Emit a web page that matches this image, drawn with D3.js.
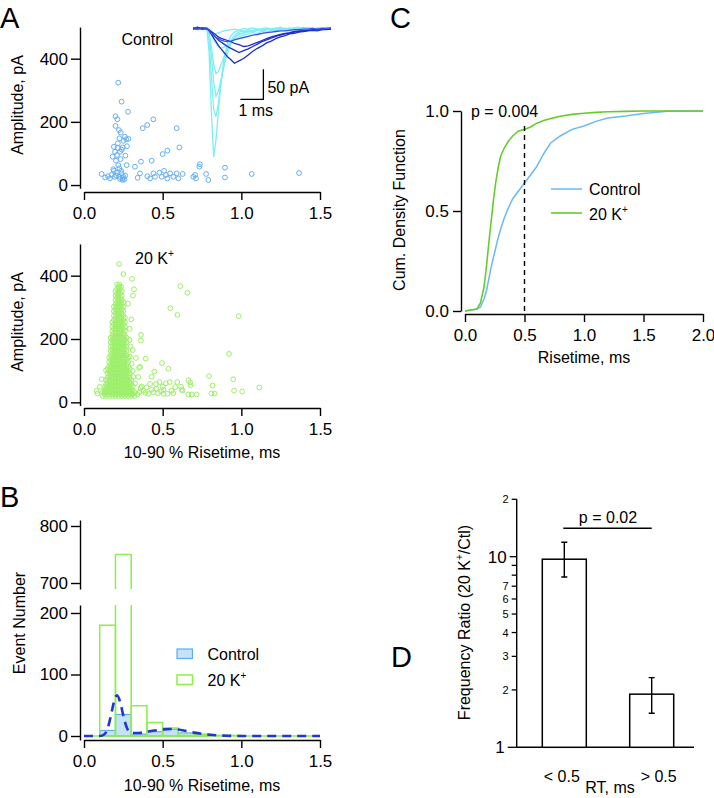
<!DOCTYPE html>
<html><head><meta charset="utf-8">
<script src="https://cdn.jsdelivr.net/npm/d3@7"></script>
<style>body{margin:0;background:#fff}</style>
</head><body><svg id="c" width="714" height="798" style="background:#fff"></svg>
<script>
// ---------------- DATA ----------------
const riseTicks = [0, 0.5, 1.0, 1.5];
const ampTicks = [0, 200, 400];
const ctlScatter = [[0.218,324],[0.239,264],[0.28,232],[0.2,218],[0.212,208],[0.2,187],[0.222,174],[0.233,166],[0.26,153],[0.225,148],[0.282,146],[0.25,140],[0.19,121],[0.246,119],[0.273,123],[0.197,105],[0.229,105],[0.263,93],[0.182,90],[0.203,77],[0.271,63],[0.218,63],[0.186,50],[0.225,53],[0.208,39],[0.239,37],[0.112,35],[0.134,24],[0.165,21],[0.176,32],[0.225,26],[0.229,19],[0.246,16],[0.256,18],[0.25,26],[0.195,26],[0.373,180],[0.402,190],[0.441,208],[0.589,180],[0.324,58],[0.362,74],[0.43,77],[0.356,37],[0.341,23],[0.402,28],[0.42,21],[0.441,37],[0.451,26],[0.479,39],[0.494,26],[0.509,45],[0.521,32],[0.53,21],[0.5,98],[0.53,109],[0.606,119],[0.547,37],[0.568,26],[0.589,37],[0.6,21],[0.627,35],[0.695,26],[0.712,21],[0.706,32],[0.733,58],[0.737,66],[0.776,35],[0.79,16],[0.896,55],[0.896,24],[1.066,35],[1.367,38],[0.21,95],[0.24,112],[0.215,132],[0.235,45],[0.205,30],[0.262,30],[0.152,28],[0.19,45],[0.232,82],[0.245,22],[0.268,145],[0.214,118]];
const k20Outliers = [[0.2225,437],[0.25,405],[0.305,390],[0.318,357],[0.311,337],[0.28,311],[0.612,367],[0.657,346],[0.549,297],[0.594,276],[0.983,272],[0.922,153],[0.362,213],[0.362,195],[0.392,138],[0.496,124],[0.536,106],[0.447,97],[0.43,81],[0.356,112],[0.35,109],[0.948,73],[0.954,37],[1.005,34],[1.114,47],[0.795,83],[0.816,53],[0.81,28],[0.83,28],[0.663,70],[0.675,63],[0.677,54],[0.663,25],[0.685,25],[0.716,25],[0.617,49],[0.62,40],[0.627,37],[0.593,64],[0.545,64],[0.52,60],[0.48,64],[0.457,58],[0.42,58],[0.398,47],[0.377,37],[0.41,27],[0.44,32],[0.47,29],[0.505,27],[0.53,27],[0.568,29],[0.557,37],[0.505,40],[0.46,43],[0.43,40],[0.352,32],[0.367,50],[0.325,60],[0.314,80],[0.31,99],[0.303,122],[0.29,144],[0.296,176],[0.29,197],[0.08,36],[0.085,28],[0.1,49],[0.113,73],[0.13,32],[0.14,101],[0.34,25],[0.36,45],[0.39,30],[0.5,50],[0.58,48],[0.49,35],[0.345,80],[0.33,140],[0.31,165],[0.3,262],[0.29,232]];
const k20Rows = [
 [20,[0.12,0.14,0.16,0.18,0.2,0.22,0.24,0.26,0.28,0.3,0.32]],
 [26,[0.13,0.15,0.17,0.19,0.21,0.23,0.25,0.27,0.29,0.31]],
 [32,[0.12,0.14,0.16,0.18,0.2,0.22,0.24,0.26,0.28,0.3,0.32]],
 [38,[0.13,0.15,0.17,0.19,0.21,0.23,0.25,0.27,0.29,0.31]],
 [44,[0.14,0.16,0.18,0.2,0.22,0.24,0.26,0.28,0.3]],
 [50,[0.135,0.15,0.17,0.19,0.21,0.23,0.25,0.27,0.29,0.31]],
 [57,[0.14,0.16,0.18,0.2,0.22,0.24,0.26,0.28,0.3]],
 [64,[0.15,0.17,0.19,0.21,0.23,0.25,0.27,0.29]],
 [71,[0.14,0.16,0.18,0.2,0.22,0.24,0.26,0.28,0.3]],
 [78,[0.15,0.17,0.19,0.21,0.23,0.25,0.27,0.29]],
 [85,[0.16,0.18,0.2,0.22,0.24,0.26,0.28]],
 [92,[0.15,0.17,0.19,0.21,0.23,0.25,0.27,0.29]],
 [99,[0.16,0.18,0.2,0.22,0.24,0.26,0.28]],
 [106,[0.15,0.17,0.19,0.21,0.23,0.25,0.27,0.29]],
 [113,[0.16,0.18,0.2,0.22,0.24,0.26,0.28]],
 [120,[0.17,0.19,0.21,0.23,0.25,0.27]],
 [127,[0.16,0.18,0.2,0.22,0.24,0.26,0.28]],
 [134,[0.17,0.19,0.21,0.23,0.25,0.27]],
 [141,[0.16,0.18,0.2,0.22,0.24,0.26,0.28]],
 [148,[0.17,0.19,0.21,0.23,0.25,0.27]],
 [155,[0.18,0.2,0.22,0.24,0.26]],
 [162,[0.17,0.19,0.21,0.23,0.25,0.27]],
 [169,[0.18,0.2,0.22,0.24,0.26]],
 [176,[0.17,0.19,0.21,0.23,0.25,0.27]],
 [183,[0.18,0.2,0.22,0.24,0.26]],
 [190,[0.17,0.19,0.21,0.23,0.25,0.27]],
 [197,[0.18,0.2,0.22,0.24,0.26]],
 [204,[0.17,0.19,0.21,0.23,0.25,0.27]],
 [211,[0.18,0.2,0.22,0.24,0.26]],
 [218,[0.19,0.21,0.23,0.25]],
 [225,[0.18,0.2,0.22,0.24,0.26]],
 [232,[0.19,0.21,0.23,0.25]],
 [239,[0.18,0.2,0.22,0.24,0.26]],
 [246,[0.19,0.21,0.23,0.25]],
 [253,[0.18,0.2,0.22,0.24,0.26]],
 [260,[0.19,0.21,0.23,0.25]],
 [267,[0.2,0.22,0.24,0.26]],
 [274,[0.19,0.21,0.23,0.25]],
 [281,[0.2,0.22,0.24]],
 [288,[0.19,0.21,0.23,0.25]],
 [295,[0.2,0.22,0.24]],
 [302,[0.19,0.21,0.23,0.25]],
 [309,[0.2,0.22,0.24]],
 [316,[0.21,0.23,0.25]],
 [323,[0.2,0.22,0.24]],
 [330,[0.21,0.23]],
 [337,[0.2,0.22,0.24]],
 [344,[0.21,0.23]],
 [351,[0.2,0.22,0.24]],
 [358,[0.21,0.23]],
 [365,[0.22,0.235]],
 [372,[0.21,0.225]]
];
const traceT = [0,0.2,0.4,0.6,0.7,0.8,0.9,1.0,1.1,1.2,1.35,1.5,1.65,1.8,2.0,2.2,2.4,2.6,2.8,3.0,3.2,3.4,3.6,3.8,4.0,4.2,4.4,4.6,4.8,5.0,5.2,5.4,5.6,5.8,6.0];
const cyanTraces = [
 [0,2,-1,1,-40,-140,-214,-185,-140,-95,-50,-25,-12,-6,-3,-5,-2,-4,-1,-3,0,-2,1,-2,0,-3,1,-1,2,0,-2,1,-1,2,0],
 [1,-1,1,0,-20,-80,-135,-147,-125,-95,-60,-35,-20,-11,-6,-4,-6,-3,-1,-4,-2,0,-3,1,-1,-2,0,2,-1,1,-2,0,1,-1,1],
 [0,1,-2,0,-10,-45,-90,-113,-105,-88,-62,-40,-25,-15,-9,-7,-4,-6,-2,-3,-1,-3,0,-2,1,-1,-2,1,0,-1,1,-2,0,1,0],
 [-1,0,1,0,-8,-30,-60,-75,-72,-62,-47,-33,-22,-15,-10,-8,-5,-6,-3,-4,-2,-1,-3,0,-1,1,-2,0,-1,1,0,-2,1,0,1],
 [0,-2,1,0,-3,-8,-11,-9,-7,-6,-4,-3,-2,-1,-3,0,-1,1,-2,0,1,-1,0,2,-1,0,1,-1,0,1,-1,0,2,0,-1],
 [1,0,-1,1,-3,-10,-18,-25,-30,-33,-31,-28,-23,-18,-14,-11,-9,-7,-8,-5,-6,-3,-4,-2,-3,-1,-2,0,-2,1,-1,0,-1,1,0]
];
const blueTraces = [
 [0,2,-1,0,-4,-10,-16,-22,-28,-33,-40,-47,-52,-58,-54,-50,-44,-38,-33,-29,-24,-21,-17,-14,-12,-9,-8,-6,-5,-4,-3,-4,-2,-2,-1],
 [-1,1,0,0,-3,-7,-11,-15,-19,-22,-26,-30,-33,-36,-40,-37,-34,-30,-26,-22,-19,-16,-13,-11,-9,-8,-6,-5,-4,-3,-3,-2,-2,-1,0],
 [0,-1,1,0,-2,-5,-8,-11,-14,-16,-18,-20,-22,-25,-27,-30,-29,-26,-23,-20,-17,-14,-12,-10,-8,-7,-5,-4,-4,-3,-2,-2,-1,-1,0],
 [1,0,-1,0,-3,-8,-12,-15,-17,-19,-21,-22,-21,-19,-17,-15,-13,-11,-10,-8,-7,-6,-5,-4,-4,-3,-2,-2,-1,-1,0,-1,0,0,1]
];
const histBinStarts = [0,0.1,0.2,0.3,0.4,0.5,0.6,0.7,0.8,0.9,1.0,1.1,1.2,1.3,1.4];
const histK20 = [0,180,750,49,22,13,4,2,1,1,0,0,0,0,0];
const histCtl = [0,9,35,3,7,11,5,3,0,0,0,0,0,0,0];
const fitX = [0,0.05,0.1,0.13,0.15,0.17,0.19,0.21,0.23,0.25,0.27,0.3,0.35,0.4,0.45,0.5,0.55,0.6,0.65,0.7,0.75,0.8,0.85,0.9,1.0,1.2,1.5];
const fitY = [0,0,0,3,12,32,55,66,55,33,15,5,5,7,9,10.5,11.5,10.5,8,5.5,3.5,2,1,0.5,0,0,0];
const histLowTicks = [0,100,200];
const histHighTicks = [700,800];
const cdfX = [0,0.1,0.13,0.16,0.18,0.2,0.22,0.24,0.26,0.28,0.3,0.33,0.36,0.4,0.45,0.5,0.55,0.6,0.66,0.72,0.8,0.9,1.0,1.1,1.2,1.35,1.5,1.7,2.0];
const cdfCtl = [0,0.01,0.02,0.06,0.1,0.16,0.22,0.27,0.32,0.37,0.41,0.465,0.51,0.56,0.6,0.64,0.68,0.72,0.785,0.84,0.875,0.908,0.925,0.948,0.965,0.975,0.988,0.999,1];
const cdfK20 = [0,0.01,0.04,0.12,0.22,0.34,0.45,0.56,0.65,0.72,0.775,0.815,0.845,0.875,0.9,0.908,0.92,0.938,0.952,0.962,0.974,0.983,0.989,0.993,0.996,0.998,1,1,1];
const cdfXTicks = [0,0.5,1.0,1.5,2.0];
const cdfYTicks = [0,0.5,1.0];
const ratioCats = ["< 0.5", "> 0.5"];
const ratioVals = [9.7, 1.9];
const ratioLo = [7.83, 1.51];
const ratioHi = [11.9, 2.32];
const ratioTicks = [1,2,3,4,5,6,7,8,9,10,20];
const ratioTickLabels = ["1","2","3","4","5","6","7","","","10","2"];

// ---------------- DRAW ----------------
const FONT = '"Liberation Sans", Arial, Helvetica, sans-serif';
const TICKFS = 17;
const svg = d3.select("#c");
svg.append("rect").attr("width",714).attr("height",798).attr("fill","#fff");
const C_CTL = "#66aef5", C_K20 = "#9cef68", C_CYAN = "#7eeef5", C_DARK = "#1f2fcc", C_MED = "#3a52e6";
const C_CDF_G = "#66cc2e", C_CDF_B = "#6cb8f6", C_HIST_G = "#8def4a", C_HIST_FILL = "#c6e2f8", C_HIST_S = "#62acec";

function styleAxis(g) {
  g.attr("font-family", FONT).attr("font-size", TICKFS);
  g.selectAll(".domain, .tick line").attr("stroke", "#000").attr("stroke-width", 1.4);
  g.selectAll("text").attr("fill", "#000");
}
function txt(x, y, s, o = {}) {
  const t = svg.append("text").attr("x", x).attr("y", y).attr("font-family", FONT)
    .attr("font-size", o.fs || 16).attr("fill", "#000").attr("text-anchor", o.anchor || "start").text(s);
  if (o.rot) t.attr("transform", `rotate(-90,${x},${y})`);
  return t;
}
function kText(x, y, o = {}) {
  const t = svg.append("text").attr("x", x).attr("y", y).attr("font-family", FONT)
    .attr("font-size", 16).attr("fill", "#000").attr("text-anchor", o.anchor || "start");
  t.append("tspan").text(o.pre || "20 K");
  t.append("tspan").attr("dy", -7).attr("font-size", 10).text("+");
  if (o.post) t.append("tspan").attr("dy", 7).attr("font-size", 16).text(o.post);
  if (o.rot) t.attr("transform", `rotate(-90,${x},${y})`);
  return t;
}

// Panel letters
txt(0, 28, "A", {fs: 29});
txt(0, 507, "B", {fs: 29});
txt(390, 28, "C", {fs: 29});
txt(391, 667, "D", {fs: 29});

// ===== Panel A (top, Control) =====
const xA = d3.scaleLinear([0, 1.5], [84, 320]);
const yA1 = d3.scaleLinear([-10, 500], [188.2, 27.1]);
styleAxis(svg.append("g").attr("transform", "translate(80,0)")
  .call(d3.axisLeft(yA1).tickValues(ampTicks).tickSize(9).tickPadding(3).tickSizeOuter(0)));
styleAxis(svg.append("g").attr("transform", "translate(0,192)")
  .call(d3.axisBottom(xA).tickValues(riseTicks).tickFormat(d3.format(".1f")).tickSize(8).tickPadding(7).tickSizeOuter(0)));
svg.append("g").selectAll("circle").data(ctlScatter).join("circle")
  .attr("cx", d => xA(d[0])).attr("cy", d => yA1(d[1])).attr("r", 2.4)
  .attr("fill", "none").attr("stroke", C_CTL).attr("stroke-width", 1);
txt(23, 105, "Amplitude, pA", {rot: true, anchor: "middle"});
txt(121.5, 45, "Control");

// inset traces
const tx = d3.scaleLinear([0, 6], [193, 331]);
const ty = d3.scaleLinear([0, -50], [28.5, 58.5]);
const tl = d3.line().x((d, i) => tx(traceT[i])).y(d => ty(d));
cyanTraces.forEach(tr => svg.append("path").attr("d", tl(tr)).attr("fill", "none").attr("stroke", C_CYAN).attr("stroke-width", 1.3));
blueTraces.forEach((tr, i) => svg.append("path").attr("d", tl(tr)).attr("fill", "none")
  .attr("stroke", i === 3 ? C_MED : C_DARK).attr("stroke-width", 1.3));
// scale bar (1 ms, 50 pA)
const sbT = 3.06, sbTop = -68;
svg.append("path").attr("d", `M${tx(sbT)},${ty(sbTop)}V${ty(sbTop - 50)}H${tx(sbT - 1)}`)
  .attr("fill", "none").attr("stroke", "#000").attr("stroke-width", 1.3);
txt(tx(sbT) + 4, 93, "50 pA");
txt(tx(sbT - 1) - 2, 116, "1 ms");

// ===== Panel A (bottom, 20 K+) =====
const yA2 = d3.scaleLinear([-10, 500], [405.5, 244]);
styleAxis(svg.append("g").attr("transform", "translate(80,0)")
  .call(d3.axisLeft(yA2).tickValues(ampTicks).tickSize(9).tickPadding(3).tickSizeOuter(0)));
styleAxis(svg.append("g").attr("transform", "translate(0,408)")
  .call(d3.axisBottom(xA).tickValues(riseTicks).tickFormat(d3.format(".1f")).tickSize(8).tickPadding(7).tickSizeOuter(0)));
const k20Pts = k20Rows.flatMap(r => r[1].map(x => [x, r[0]])).concat(k20Outliers);
svg.append("g").selectAll("circle").data(k20Pts).join("circle")
  .attr("cx", d => xA(d[0])).attr("cy", d => yA2(d[1])).attr("r", 2.4)
  .attr("fill", "none").attr("stroke", C_K20).attr("stroke-width", 1);
txt(23, 322, "Amplitude, pA", {rot: true, anchor: "middle"});
kText(135, 264);
txt(202, 458, "10-90 % Risetime, ms", {anchor: "middle"});

// ===== Panel B =====
const xB = d3.scaleLinear([0, 1.5], [84, 320]);
const yLow = d3.scaleLinear([-6.5, 213], [740, 605]);
const yHigh = d3.scaleLinear([689.5, 810.5], [589, 520]);
styleAxis(svg.append("g").attr("transform", "translate(80,0)")
  .call(d3.axisLeft(yLow).tickValues(histLowTicks).tickSize(9).tickPadding(3).tickSizeOuter(0)));
styleAxis(svg.append("g").attr("transform", "translate(80,0)")
  .call(d3.axisLeft(yHigh).tickValues(histHighTicks).tickSize(9).tickPadding(3).tickSizeOuter(0)));
styleAxis(svg.append("g").attr("transform", "translate(0,740)")
  .call(d3.axisBottom(xB).tickValues(riseTicks).tickFormat(d3.format(".1f")).tickSize(8).tickPadding(7).tickSizeOuter(0)));
const bw = 0.1;
svg.append("g").selectAll("rect").data(histCtl.map((v, i) => [histBinStarts[i], v])).join("rect")
  .attr("x", d => xB(d[0])).attr("width", d => xB(d[0] + bw) - xB(d[0]))
  .attr("y", d => yLow(d[1])).attr("height", d => yLow(0) - yLow(d[1]))
  .attr("fill", C_HIST_FILL).attr("stroke", C_HIST_S).attr("stroke-width", 1.2);
const lowMax = 213;
histK20.forEach((v, i) => {
  const x0 = xB(histBinStarts[i]), x1 = xB(histBinStarts[i] + bw), y0 = yLow(0);
  let d;
  if (v <= lowMax) d = `M${x0},${y0}V${yLow(v)}H${x1}V${y0}Z`;
  else d = `M${x0},${yLow(lowMax)}V${y0}H${x1}V${yLow(lowMax)}M${x0},${yHigh(689.5)}V${yHigh(v)}H${x1}V${yHigh(689.5)}`;
  svg.append("path").attr("d", d).attr("fill", "none").attr("stroke", C_HIST_G).attr("stroke-width", 1.5);
});
svg.append("path").attr("d", d3.line().curve(d3.curveMonotoneX).x((d, i) => xB(fitX[i])).y(d => yLow(d))(fitY))
  .attr("fill", "none").attr("stroke", "#2236cf").attr("stroke-width", 2.6).attr("stroke-dasharray", "9,6");
svg.append("rect").attr("x", 177).attr("y", 649).attr("width", 15.5).attr("height", 9.5)
  .attr("fill", C_HIST_FILL).attr("stroke", C_HIST_S).attr("stroke-width", 1.2);
svg.append("rect").attr("x", 177).attr("y", 675).attr("width", 15.5).attr("height", 9.5)
  .attr("fill", "#fff").attr("stroke", C_HIST_G).attr("stroke-width", 1.5);
txt(207.5, 660, "Control");
kText(207.5, 686);
txt(25, 623, "Event Number", {rot: true, anchor: "middle"});
txt(202, 791, "10-90 % Risetime, ms", {anchor: "middle"});

// ===== Panel C =====
const xC = d3.scaleLinear([0, 2], [465, 703]);
const yC = d3.scaleLinear([0, 1], [311, 111]);
styleAxis(svg.append("g").attr("transform", "translate(461,0)")
  .call(d3.axisLeft(yC).tickValues(cdfYTicks).tickFormat(d3.format(".1f")).tickSize(8).tickPadding(4).tickSizeOuter(0)));
styleAxis(svg.append("g").attr("transform", "translate(0,314)")
  .call(d3.axisBottom(xC).tickValues(cdfXTicks).tickFormat(d3.format(".1f")).tickSize(8).tickPadding(7).tickSizeOuter(0)));
const cl = d3.line().x((d, i) => xC(cdfX[i])).y(d => yC(d));
svg.append("path").attr("d", cl(cdfCtl)).attr("fill", "none").attr("stroke", C_CDF_B).attr("stroke-width", 1.5);
svg.append("path").attr("d", cl(cdfK20)).attr("fill", "none").attr("stroke", C_CDF_G).attr("stroke-width", 1.6);
svg.append("line").attr("x1", xC(0.5)).attr("x2", xC(0.5)).attr("y1", yC(0)).attr("y2", yC(0.94))
  .attr("stroke", "#000").attr("stroke-width", 1.4).attr("stroke-dasharray", "5,4");
txt(471, 117, "p = 0.004");
svg.append("line").attr("x1", 551).attr("x2", 582).attr("y1", 189).attr("y2", 189).attr("stroke", C_CDF_B).attr("stroke-width", 1.5);
svg.append("line").attr("x1", 551).attr("x2", 582).attr("y1", 213).attr("y2", 213).attr("stroke", C_CDF_G).attr("stroke-width", 1.6);
txt(589, 195, "Control");
kText(589, 219.5);
txt(405, 210, "Cum. Density Function", {rot: true, anchor: "middle"});
txt(584, 363, "Risetime, ms", {anchor: "middle"});

// ===== Panel D =====
const yD = d3.scaleLog([1, 20], [747.3, 499.3]);
const xD = d3.scalePoint(ratioCats, [564.3, 651.7]);
const barW = 44;
const axX = 516.7;
svg.append("line").attr("x1", axX).attr("x2", axX).attr("y1", yD(20)).attr("y2", yD(1)).attr("stroke", "#000").attr("stroke-width", 1.4);
svg.append("line").attr("x1", axX).attr("x2", 694).attr("y1", yD(1)).attr("y2", yD(1)).attr("stroke", "#000").attr("stroke-width", 1.4);
ratioTicks.forEach((v, i) => {
  const big = (v === 1 || v === 10);
  const len = v === 1 ? 9 : (v === 10 ? 7 : 5);
  svg.append("line").attr("x1", axX - len).attr("x2", axX).attr("y1", yD(v)).attr("y2", yD(v)).attr("stroke", "#000").attr("stroke-width", 1.3);
  if (ratioTickLabels[i]) txt(axX - len - 3, yD(v) + (big ? 6 : 4), ratioTickLabels[i], {anchor: "end", fs: big ? 17 : 11});
});
ratioCats.forEach((c, i) => {
  const cx = xD(c);
  svg.append("rect").attr("x", cx - barW / 2).attr("width", barW).attr("y", yD(ratioVals[i])).attr("height", yD(1) - yD(ratioVals[i]))
    .attr("fill", "#fff").attr("stroke", "#000").attr("stroke-width", 1.5);
  svg.append("path").attr("d", `M${cx - 3},${yD(ratioHi[i])}H${cx + 3}M${cx},${yD(ratioHi[i])}V${yD(ratioLo[i])}M${cx - 3},${yD(ratioLo[i])}H${cx + 3}`)
    .attr("fill", "none").attr("stroke", "#000").attr("stroke-width", 1.4);
});
const sigLevel = 14.1;
svg.append("line").attr("x1", xD(ratioCats[0]) - 1).attr("x2", xD(ratioCats[1])).attr("y1", yD(sigLevel)).attr("y2", yD(sigLevel))
  .attr("stroke", "#000").attr("stroke-width", 1.4);
txt((xD(ratioCats[0]) + xD(ratioCats[1])) / 2, yD(sigLevel) - 5, "p = 0.02", {anchor: "middle"});
txt(xD(ratioCats[0]) - 2.5, 782, ratioCats[0], {anchor: "middle"});
txt(xD(ratioCats[1]) + 7, 782, ratioCats[1], {anchor: "middle"});
txt(610, 793, "RT, ms", {anchor: "middle"});
kText(470, 622.5, {pre: "Frequency Ratio (20 K", post: "/Ctl)", rot: true, anchor: "middle"});
</script>
</body></html>
